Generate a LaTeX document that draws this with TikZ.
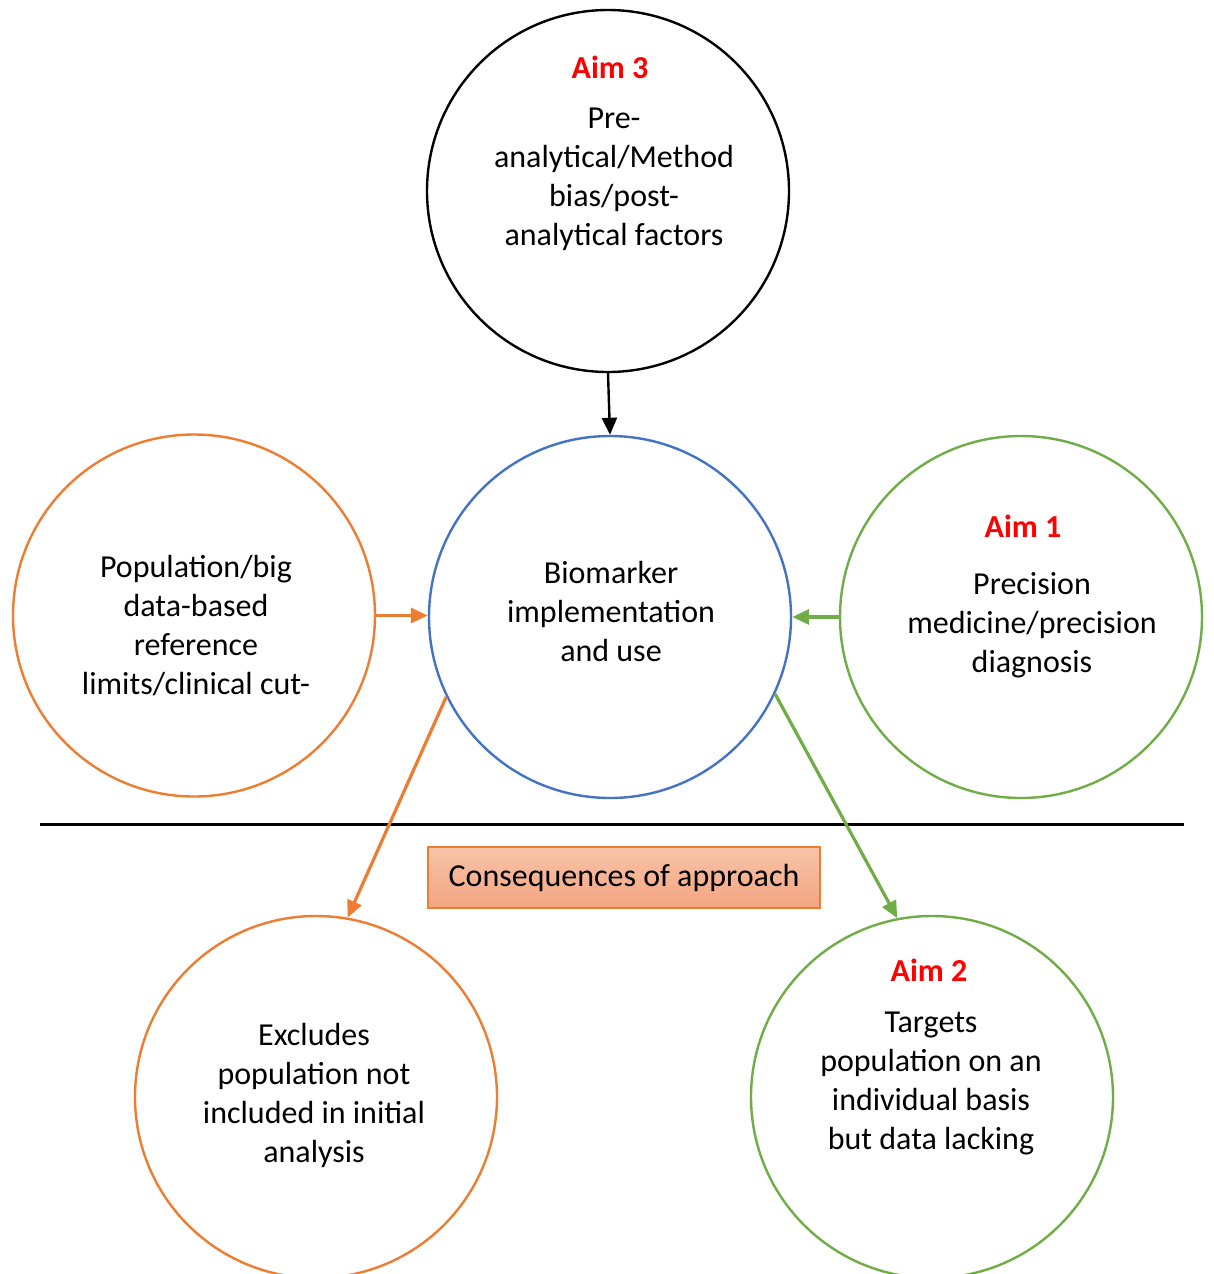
\documentclass[tikz,border=0pt]{standalone}
\usepackage{fontspec}
\setmainfont{Carlito}
\usetikzlibrary{arrows.meta}
\definecolor{corange}{HTML}{ED7D31}
\definecolor{cgreen}{HTML}{70AD47}
\definecolor{cblue}{HTML}{4472C4}
\definecolor{cred}{HTML}{FF0000}
\tikzset{
  ring/.style={circle, draw, line width=2.4pt, minimum size=362pt, inner sep=0pt},
  txt/.style={align=center, font=\fontsize{32}{39}\selectfont, inner sep=0pt},
  aim/.style={font=\fontsize{32}{39}\selectfont\bfseries, text=cred, inner sep=0pt},
  conn/.style={line width=3.2pt, -{Triangle[length=17pt,width=15pt]}},
}
\begin{document}
\begin{tikzpicture}[x=1pt,y=-1pt]
\useasboundingbox (0,0) rectangle (1213,1274);
\clip (0,0) rectangle (1213,1274);
\fill[white] (0,0) rectangle (1213,1274);
% circles
\node[ring, draw=black] (top) at (608,191) {};
\node[ring, draw=cblue] (mid) at (610,617) {};
\node[ring, draw=corange] (left) at (194,615.5) {};
\node[ring, draw=cgreen] (right) at (1021,617) {};
\node[ring, draw=corange] (bl) at (316,1097) {};
\node[ring, draw=cgreen] (br) at (932,1097) {};
% texts
\node[aim] (aim3) at (610,67) {Aim 3};
\node[txt, anchor=north] (toptxt) at (614,108) {Pre-\\analytical/Method\\bias/post-\\analytical factors};
\node[txt] (midtxt) at (611,611) {Biomarker\\implementation\\and use};
\node[txt, anchor=north] (lefttxt) at (196,555) {Population/big\\data-based\\reference\\limits/clinical cut-};
\node[aim] (aim1) at (1023,526) {Aim 1};
\node[txt] (righttxt) at (1032,625) {Precision\\medicine/precision\\diagnosis};
\node[txt, anchor=north] (bltxt) at (314,1023) {Excludes\\population not\\included in initial\\analysis};
\node[aim] (aim2) at (929,970) {Aim 2};
\node[txt, anchor=north] (brtxt) at (931,1012) {Targets\\population on an\\individual basis\\but data lacking};
% divider
\coordinate (lineL) at (40,824);
\coordinate (lineR) at (1184,824);
\draw[line width=3pt] (lineL) -- (lineR);
% box
\node[draw=corange, line width=1.2pt, top color={rgb,255:red,248;green,195;blue,168}, bottom color={rgb,255:red,244;green,165;blue,130}, minimum width=392pt, minimum height=61pt, inner sep=0pt, font=\fontsize{32}{39}\selectfont] (box) at (624,877.5) {Consequences of approach};
% connectors
\draw[conn, line width=2.4pt, black] (top.south) -- (mid.north);
\draw[conn, corange] (left.east) -- (left.east -| mid.west);
\draw[conn, cgreen] (right.west) -- (right.west -| mid.east);
\draw[conn, corange] (mid.206) -- (bl.80);
\draw[conn, cgreen] (mid.-25.3) -- (br.101);
\end{tikzpicture}
\end{document}
